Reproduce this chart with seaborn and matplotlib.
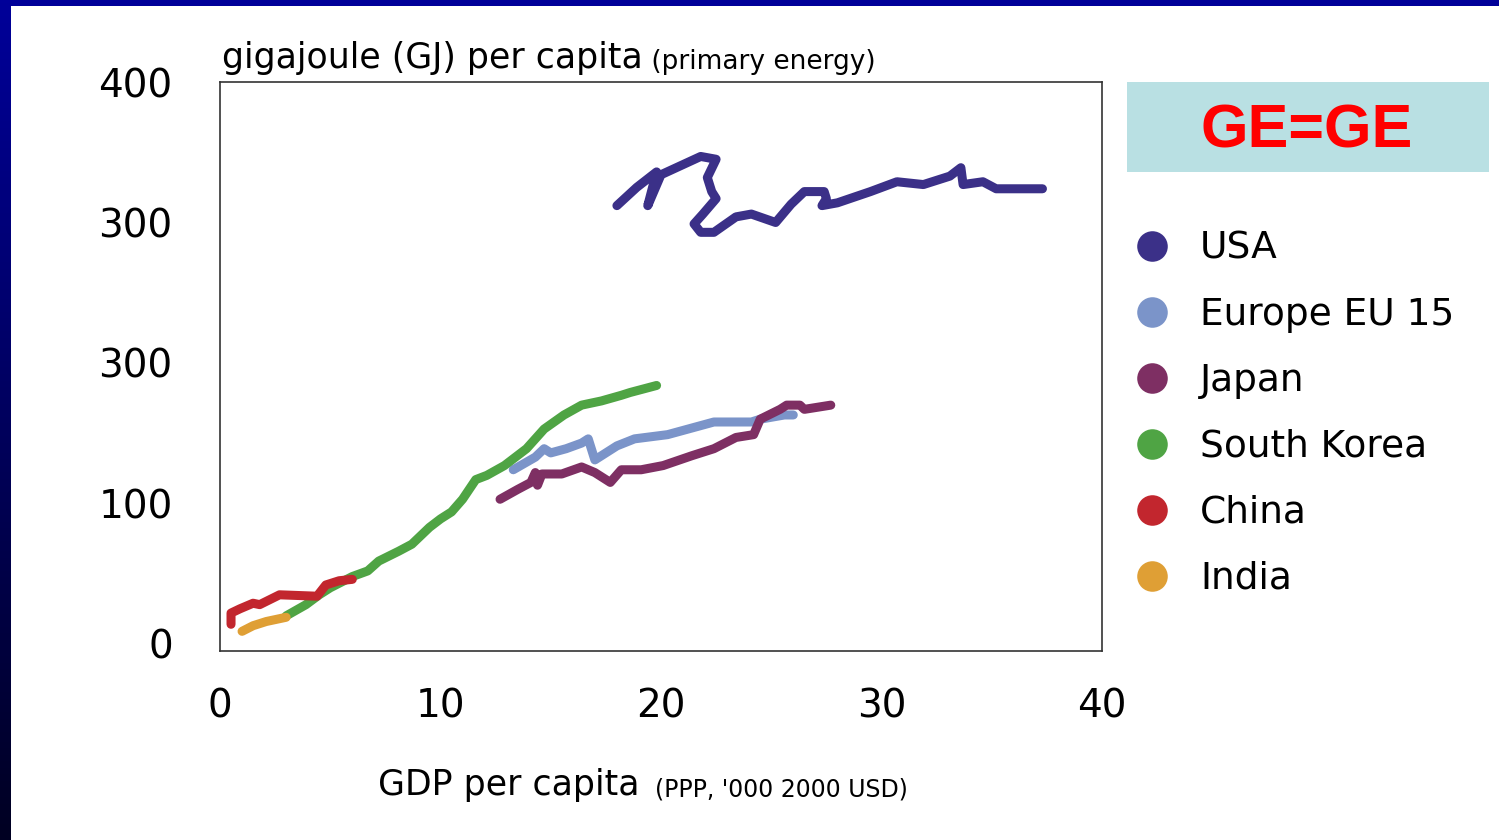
import numpy as np
import pandas as pd
import seaborn as sns
import matplotlib.pyplot as plt
from matplotlib.lines import Line2D
from matplotlib.patches import Rectangle
from matplotlib.colors import LinearSegmentedColormap

# ---- data: GDP per capita ('000 USD) vs GJ per capita ----
usa_x = [18.0, 18.9, 19.8, 19.4, 20.0, 21.8, 22.5, 22.1, 22.3, 22.5, 21.9, 21.5, 21.8, 22.4,
         23.4, 24.1, 25.2, 25.9, 26.5, 27.4, 27.5, 27.3, 28.0, 29.5, 30.7, 31.9, 33.1, 33.6,
         33.7, 34.6, 35.2, 37.3]
usa_y = [312, 325, 336, 312, 334, 347, 345, 332, 322, 317, 306, 299, 293, 293,
         304, 306, 300, 313, 322, 322, 317, 312, 314, 322, 329, 327, 333, 339,
         327, 329, 324, 324]

eu_x = [13.3, 14.3, 14.7, 15.0, 15.7, 16.4, 16.7, 17.0, 18.0, 18.8, 20.3, 21.0, 22.4, 24.1,
        24.5, 25.6, 26.0]
eu_y = [124, 133, 139, 136, 139, 143, 146, 131, 141, 146, 149, 152, 158, 158,
        160, 163, 163]

japan_x = [12.7, 13.5, 14.1, 14.3, 14.4, 14.6, 15.5, 16.4, 17.0, 17.7, 18.2, 19.1, 20.1, 21.4,
           22.4, 23.4, 24.2, 24.5, 25.4, 25.7, 26.3, 26.5, 27.7]
japan_y = [103, 110, 115, 122, 113, 121, 121, 126, 122, 115, 124, 124, 127, 134,
           139, 147, 149, 160, 167, 170, 170, 167, 170]

korea_x = [3.0, 3.9, 4.5, 5.0, 6.0, 6.7, 7.2, 8.1, 8.7, 9.5, 10.0, 10.5, 11.0, 11.6,
           12.1, 12.9, 13.9, 14.7, 15.6, 16.4, 17.3, 18.2, 18.6, 19.8]
korea_y = [20, 28, 35, 40, 48, 52, 59, 66, 71, 83, 89, 94, 103, 117,
           120, 127, 139, 153, 163, 170, 173, 177, 179, 184]

china_x = [0.5, 0.5, 0.9, 1.5, 1.8, 2.7, 4.4, 4.8, 5.4, 6.0]
china_y = [14, 22, 25, 29, 28, 35, 34, 42, 45, 46]

india_x = [1.0, 1.5, 2.1, 3.0]
india_y = [9, 13, 16, 19]

countries = ["USA", "Europe EU 15", "Japan", "South Korea", "China", "India"]
colors = ["#3b3088", "#7b94c9", "#7e2f63", "#4fa444", "#c2262e", "#df9f35"]
y_ticks = [0, 100, 200, 300, 400]
y_tick_labels = ["0", "100", "300", "300", "400"]
x_ticks = [0, 10, 20, 30, 40]

series = [(usa_x, usa_y), (eu_x, eu_y), (japan_x, japan_y),
          (korea_x, korea_y), (china_x, china_y), (india_x, india_y)]
frames = []
for name, (xs, ys) in zip(countries, series):
    frames.append(pd.DataFrame({"gdp": xs, "energy": ys, "country": name}))
df = pd.concat(frames, ignore_index=True)

sns.set_style("white")
plt.rcParams["font.family"] = ["DejaVu Sans"]
plt.rcParams["text.color"] = "black"
plt.rcParams["xtick.color"] = "black"
plt.rcParams["ytick.color"] = "black"

fig = plt.figure(figsize=(14.99, 8.4), dpi=100)
fig.patch.set_facecolor("white")

# dark border strips (top and left) like the slide template
top = fig.add_axes([0, 1 - 6 / 840, 1, 6 / 840])
top.set_facecolor("#000099")
top.set_xticks([]); top.set_yticks([])
for s in top.spines.values():
    s.set_visible(False)
left = fig.add_axes([0, 0, 11 / 1499, 1])
grad = np.linspace(0, 1, 256).reshape(-1, 1)
cmap = LinearSegmentedColormap.from_list("edge", ["#000099", "#000022"])
left.imshow(grad, aspect="auto", cmap=cmap, extent=[0, 1, 0, 1], origin="upper")
left.set_axis_off()

ax = fig.add_axes([220 / 1499, 1 - 651 / 840, 882 / 1499, 569 / 840])
sns.lineplot(data=df, x="gdp", y="energy", hue="country", hue_order=countries,
             palette=colors, sort=False, estimator=None, units="country",
             linewidth=6.5, legend=False, ax=ax)

ax.set_xlim(0, 40)
ax.set_ylim(-5, 400)
ax.set_xticks(x_ticks)
ax.set_xticklabels([str(v) for v in x_ticks], fontsize=28)
ax.set_yticks(y_ticks)
ax.set_yticklabels(y_tick_labels, fontsize=28)
ax.tick_params(length=0)
ax.tick_params(axis="x", pad=26)
ax.tick_params(axis="y", pad=34)
ax.set_xlabel("")
ax.set_ylabel("")
for s in ax.spines.values():
    s.set_color("#333333")
    s.set_linewidth(1.2)

# axis titles
t1 = fig.text(222 / 1499, 1 - 68 / 840, "gigajoule (GJ) per capita", fontsize=25)
ax.annotate(" (primary energy)", xy=(1, 0), xycoords=t1, fontsize=19,
            ha="left", va="bottom")
t2 = fig.text(378 / 1499, 1 - 795 / 840, "GDP per capita", fontsize=25)
ax.annotate("  (PPP, '000 2000 USD)", xy=(1, 0), xycoords=t2, fontsize=17,
            ha="left", va="bottom")

# GE=GE box
fig.patches.append(Rectangle((1127 / 1499, 1 - 172 / 840), 362 / 1499, 90 / 840,
                             transform=fig.transFigure, facecolor="#b9e0e3",
                             edgecolor="none", zorder=0))
fig.text(1307 / 1499, 1 - 132 / 840, "GE=GE", fontsize=44, fontweight="bold",
         color="#ff0000", family="Liberation Sans", ha="center", va="center")

# legend
handles = [Line2D([], [], linestyle="none", marker="o", markersize=22,
                  markerfacecolor=c, markeredgecolor="none") for c in colors]
fig.legend(handles, countries, loc="upper left",
           bbox_to_anchor=(1096 / 1499, 1 - 212 / 840), frameon=False,
           fontsize=27, labelspacing=0.8, handletextpad=0.27, borderpad=0)

fig.savefig("out.png", dpi=100)
